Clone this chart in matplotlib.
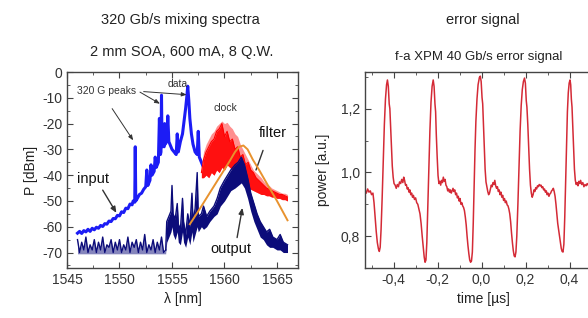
import numpy as np
import matplotlib
matplotlib.use("Agg")
import matplotlib.pyplot as plt
from matplotlib.ticker import FixedLocator, FixedFormatter, MultipleLocator

plt.rcParams['font.family'] = ['Liberation Sans', 'DejaVu Sans']

# ---------------- data: left panel (spectra) ----------------
in_lam = [1546.0, 1546.2, 1546.4, 1546.6, 1546.8, 1547.0, 1547.2, 1547.4, 1547.6, 1547.8,
          1548.0, 1548.2, 1548.4, 1548.6, 1548.8, 1549.0, 1549.2, 1549.4, 1549.6, 1549.8,
          1550.0, 1550.2, 1550.4, 1550.6, 1550.8, 1551.0, 1551.2,
          1551.3, 1551.45, 1551.5, 1551.55, 1551.7, 1551.9,
          1552.1, 1552.3, 1552.5, 1552.6, 1552.7, 1552.9, 1553.0, 1553.1, 1553.3, 1553.4, 1553.5,
          1553.7, 1553.8, 1553.9, 1553.95, 1554.0, 1554.05, 1554.15, 1554.25, 1554.3, 1554.35,
          1554.5, 1554.6, 1554.7, 1554.8, 1555.0, 1555.2, 1555.4, 1555.5, 1555.6, 1555.7,
          1555.8, 1556.0, 1556.15, 1556.3, 1556.4, 1556.5, 1556.6, 1556.7, 1556.85, 1557.0,
          1557.2, 1557.4, 1557.5, 1557.6, 1557.8, 1558.0]
in_db = [-62.5, -61.8, -62.6, -61.5, -62.0, -61.0, -61.8, -60.6, -61.2, -60.2,
         -60.6, -59.5, -59.9, -58.8, -59.0, -57.8, -58.0, -56.8, -56.9, -55.6,
         -55.8, -54.2, -54.5, -52.8, -53.0, -51.2, -51.5,
         -50, -50.5, -29, -50, -49, -47.5,
         -47, -45.5, -44.5, -38, -44, -42, -36, -40, -38.5, -33, -37,
         -35, -18, -32, -31, -9, -29, -28, -29, -20, -28,
         -27, -17, -27, -28, -30, -31, -32, -24, -31, -29,
         -27, -24, -19, -14, -10, -5.5, -11, -18, -24, -28,
         -31, -32, -23, -33, -35, -37]

base_lam = [1546.0, 1546.2, 1546.4, 1546.6, 1546.8, 1547.0, 1547.2, 1547.4, 1547.6, 1547.8,
            1548.0, 1548.2, 1548.4, 1548.6, 1548.8, 1549.0, 1549.2, 1549.4, 1549.6, 1549.8,
            1550.0, 1550.2, 1550.4, 1550.6, 1550.8, 1551.0, 1551.2, 1551.4, 1551.6, 1551.8,
            1552.0, 1552.2, 1552.4, 1552.6, 1552.8, 1553.0, 1553.2, 1553.4, 1553.6, 1553.8,
            1554.0, 1554.2, 1554.4]
base_db = [-65, -70, -66, -69, -64, -70, -67, -69, -65, -70,
           -66, -69, -64, -70, -67, -68, -65, -70, -66, -69,
           -65, -70, -67, -69, -64, -70, -66, -68, -65, -70,
           -66, -69, -63, -70, -67, -69, -65, -70, -66, -69,
           -64, -70, -69]

out_lam = [1554.4, 1554.5, 1554.7, 1554.9, 1555.0, 1555.1, 1555.3, 1555.5, 1555.6, 1555.8,
           1556.0, 1556.1, 1556.3, 1556.5, 1556.7, 1556.9, 1557.0, 1557.2, 1557.4, 1557.5,
           1557.8, 1558.0, 1558.3, 1558.6, 1559.0, 1559.3, 1559.6, 1560.0, 1560.3, 1560.6,
           1561.0, 1561.3, 1561.6, 1561.9, 1562.2, 1562.5, 1562.8, 1563.1, 1563.4, 1563.7,
           1564.0, 1564.3, 1564.6, 1565.0, 1565.3, 1565.6, 1566.0]
out_hi = [-69, -58, -56, -54, -44, -55, -57, -51, -59, -61,
          -49, -58, -63, -55, -60, -47, -58, -53, -39, -56,
          -55, -52, -56, -54, -52, -49, -45, -42, -40, -38,
          -36, -35, -33, -36, -41, -47, -51, -55, -58, -60,
          -62, -61, -64, -65, -63, -66, -67]
out_lo = [-70, -66, -64, -62, -60, -63, -65, -62, -66, -67,
          -62, -66, -68, -64, -67, -62, -66, -63, -60, -62,
          -60, -61, -60, -58, -56, -55, -52, -50, -48, -46,
          -45, -44, -43, -45, -49, -54, -58, -61, -64, -65,
          -67, -68, -68, -69, -69, -70, -70]

clock_lam = [1557.8, 1558.0, 1558.25, 1558.5, 1558.75, 1559.0, 1559.25, 1559.5, 1559.75, 1560.0,
             1560.25, 1560.5, 1560.75, 1561.0, 1561.25, 1561.5, 1561.75, 1562.0, 1562.25, 1562.5,
             1562.75, 1563.0, 1563.25, 1563.5, 1563.75, 1564.0, 1564.25, 1564.5, 1564.75, 1565.0,
             1565.25, 1565.5, 1565.75, 1566.0]
clock_hi = [-37, -31, -28, -26, -24, -23, -21, -20, -19, -20,
            -19.5, -21, -22, -24, -25, -28, -30, -32, -34, -36,
            -38, -39, -40, -41, -42.5, -43.5, -44, -45, -45.5, -46,
            -46.5, -47, -47, -47.5]
clock_mid = [-39, -34, -31, -29, -27, -26, -23, -22, -20, -25,
             -23, -27, -26, -30, -29, -33, -32, -36, -35, -38,
             -39, -41, -42, -43, -44, -45, -45.5, -46, -46.5, -47,
             -47.5, -47.5, -48, -48.5]
clock_lo = [-41, -41, -40, -41, -39, -40, -38, -39, -37, -38,
            -36, -37, -38, -40, -41, -42, -43, -44, -45, -45.5,
            -46, -46.5, -47, -47.5, -47.5, -48, -48, -48.5, -48.5, -49,
            -49, -49.5, -49.5, -50]

filt_lam = [1556.7, 1557.5, 1558.5, 1559.5, 1560.5, 1561.0, 1561.4, 1561.8, 1562.2, 1562.7,
            1563.3, 1564.0, 1565.0, 1566.0]
filt_db = [-59, -54, -47.5, -41, -34.5, -31, -29, -28.5, -30, -34,
           -38, -43, -50, -57.5]

spec_xticks = [1545, 1550, 1555, 1560, 1565]
spec_yticks = [0, -10, -20, -30, -40, -50, -60, -70]
spec_yticklabels = ["0", "-10", "-20", "-30", "-40", "-50", "-60", "-70"]

# ---------------- data: right panel (error signal) ----------------
err_t = [-0.530, -0.524, -0.518, -0.512, -0.506, -0.500, -0.494, -0.489, -0.484, -0.479,
         -0.474, -0.469, -0.465, -0.461, -0.457, -0.452, -0.447, -0.442, -0.437, -0.432,
         -0.428, -0.424, -0.420, -0.417, -0.414, -0.410, -0.406, -0.402, -0.398, -0.393,
         -0.388, -0.383, -0.378, -0.373, -0.368, -0.363, -0.358, -0.354, -0.350, -0.346,
         -0.342, -0.338, -0.334, -0.330, -0.326, -0.322, -0.318, -0.314, -0.310, -0.305,
         -0.300, -0.295, -0.290, -0.285, -0.280, -0.275, -0.270, -0.265, -0.261, -0.257,
         -0.253, -0.249, -0.245, -0.240, -0.235, -0.230, -0.225, -0.220,
         -0.216, -0.212, -0.209, -0.206, -0.202, -0.198, -0.194, -0.190, -0.186, -0.182,
         -0.178, -0.174, -0.170, -0.166, -0.162, -0.158, -0.154, -0.150, -0.146, -0.142,
         -0.138, -0.134, -0.130, -0.126, -0.122, -0.118, -0.114, -0.110, -0.106, -0.102,
         -0.098, -0.094, -0.090, -0.086, -0.082, -0.078, -0.074, -0.070, -0.066, -0.062,
         -0.058, -0.054, -0.050, -0.046, -0.042, -0.038, -0.034, -0.030, -0.026, -0.021,
         -0.016, -0.010, -0.006,
         -0.002, 0.002, 0.005, 0.008, 0.012, 0.016, 0.020, 0.024, 0.028, 0.032,
         0.036, 0.040, 0.044, 0.048, 0.052, 0.056, 0.060, 0.064, 0.068, 0.072,
         0.076, 0.080, 0.084, 0.088, 0.092, 0.096, 0.100, 0.104, 0.108, 0.112,
         0.116, 0.120, 0.124, 0.128, 0.132, 0.136, 0.140, 0.144, 0.148, 0.152,
         0.156, 0.160, 0.165, 0.170, 0.175, 0.180, 0.185, 0.190, 0.195,
         0.199, 0.203, 0.206, 0.210, 0.214, 0.218, 0.222, 0.226, 0.230, 0.234,
         0.238, 0.242, 0.246, 0.250, 0.254, 0.258, 0.262, 0.266, 0.270, 0.274,
         0.278, 0.282, 0.286, 0.290, 0.294, 0.298, 0.302, 0.306, 0.310, 0.314,
         0.318, 0.322, 0.326, 0.330, 0.334, 0.338, 0.342, 0.346, 0.350, 0.354,
         0.358, 0.362, 0.366, 0.370, 0.374, 0.378, 0.382, 0.386, 0.390, 0.394,
         0.398, 0.402,
         0.405, 0.408, 0.411, 0.414, 0.418, 0.422, 0.426, 0.430, 0.434, 0.438,
         0.442, 0.446, 0.450, 0.455, 0.460, 0.465, 0.470, 0.475, 0.480, 0.490,
         0.500, 0.520, 0.540]
err_v = [0.945, 0.935, 0.948, 0.938, 0.942, 0.930, 0.935, 0.905, 0.860, 0.815,
         0.780, 0.760, 0.752, 0.765, 0.820, 0.920, 1.040, 1.150, 1.230, 1.275,
         1.290, 1.270, 1.215, 1.200, 1.150, 1.090, 1.020, 0.985, 0.965, 0.960,
         0.950, 0.962, 0.955, 0.970, 0.965, 0.978, 0.968, 0.985, 0.975, 0.960,
         0.962, 0.948, 0.952, 0.938, 0.945, 0.930, 0.935, 0.922, 0.928, 0.915,
         0.920, 0.905, 0.900, 0.885, 0.870, 0.840, 0.800, 0.765, 0.735, 0.718,
         0.725, 0.780, 0.880, 1.010, 1.130, 1.220, 1.270, 1.290,
         1.270, 1.215, 1.190, 1.120, 1.050, 0.990, 0.965, 0.972, 0.960, 0.975,
         0.968, 0.985, 0.972, 0.978, 0.960, 0.955, 0.942, 0.948, 0.938, 0.945,
         0.935, 0.942, 0.950, 0.940, 0.945, 0.930, 0.935, 0.920, 0.925, 0.910,
         0.918, 0.900, 0.905, 0.895, 0.890, 0.880, 0.860, 0.835, 0.800, 0.770,
         0.745, 0.725, 0.718, 0.722, 0.750, 0.840, 0.960, 1.070, 1.160, 1.230,
         1.275, 1.298, 1.302,
         1.285, 1.235, 1.215, 1.160, 1.080, 1.010, 0.970, 0.955, 0.940, 0.930,
         0.935, 0.948, 0.960, 0.955, 0.968, 0.962, 0.975, 0.958, 0.950, 0.955,
         0.940, 0.945, 0.930, 0.938, 0.922, 0.928, 0.912, 0.918, 0.905, 0.910,
         0.898, 0.895, 0.885, 0.870, 0.845, 0.810, 0.780, 0.755, 0.738, 0.735,
         0.750, 0.800, 0.900, 1.020, 1.130, 1.210, 1.260, 1.285, 1.296,
         1.280, 1.225, 1.205, 1.150, 1.080, 1.010, 0.960, 0.935, 0.922, 0.930,
         0.945, 0.940, 0.952, 0.948, 0.958, 0.955, 0.962, 0.958, 0.960, 0.952,
         0.955, 0.945, 0.948, 0.938, 0.942, 0.930, 0.935, 0.925, 0.932, 0.935,
         0.942, 0.945, 0.950, 0.940, 0.925, 0.900, 0.870, 0.840, 0.820, 0.800,
         0.780, 0.762, 0.752, 0.750, 0.775, 0.860, 0.970, 1.090, 1.190, 1.250,
         1.280, 1.290,
         1.275, 1.230, 1.205, 1.150, 1.080, 1.010, 0.975, 0.962, 0.968, 0.958,
         0.972, 0.965, 0.975, 0.962, 0.968, 0.955, 0.962, 0.958, 0.965, 0.955,
         0.960, 0.958, 0.962]

err_xticks = [-0.4, -0.2, 0.0, 0.2, 0.4]
err_xticklabels = ["-0,4", "-0,2", "0,0", "0,2", "0,4"]
err_yticks = [0.8, 1.0, 1.2]
err_yticklabels = ["0,8", "1,0", "1,2"]

# ---------------- figure ----------------
W, H = 588, 318
fig = plt.figure(figsize=(W / 100, H / 100), dpi=100)
fig.patch.set_facecolor('white')

ax1 = fig.add_axes([67 / W, 1 - 268 / H, (298 - 67) / W, (268 - 72) / H])
ax2 = fig.add_axes([365 / W, 1 - 268 / H, 237.6 / W, (268 - 72) / H])

navy = '#0c0c7a'
blue = '#1c1cf5'

# input
ax1.plot(in_lam, in_db, color=blue, lw=2.2, zorder=3)
# output baseline + band
ax1.fill_between(base_lam, base_db, -70.5, color=navy, alpha=0.5, lw=0, zorder=2)
ax1.plot(base_lam, base_db, color=navy, lw=1.0, zorder=2)
ax1.fill_between(out_lam, out_lo, out_hi, color=navy, lw=0, zorder=5)
ax1.plot(out_lam, out_hi, color=navy, lw=1.0, zorder=5)
# clock
ax1.fill_between(clock_lam, clock_lo, clock_hi, color='#ff8f8f', lw=0, zorder=4)
ax1.fill_between(clock_lam, clock_lo, clock_mid, color='#ff1010', lw=0, zorder=4)
ax1.plot(clock_lam, clock_mid, color='#ff0000', lw=0.8, zorder=4)
# filter
ax1.plot(filt_lam, filt_db, color='#e8922e', lw=1.4, zorder=6)

ax1.set_xlim(1545, 1567)
ax1.set_ylim(-76, 0)
ax1.xaxis.set_major_locator(FixedLocator(spec_xticks))
ax1.xaxis.set_minor_locator(MultipleLocator(2.5))
ax1.yaxis.set_major_locator(FixedLocator(spec_yticks))
ax1.yaxis.set_major_formatter(FixedFormatter(spec_yticklabels))
ax1.yaxis.set_minor_locator(MultipleLocator(5))
ax1.set_xlabel('λ [nm]', fontsize=10, color='#222222', labelpad=4)
ax1.set_ylabel('P [dBm]', fontsize=10, color='#222222', labelpad=3)

akw = dict(color='#333333', lw=0.7, shrinkA=0, shrinkB=0)
ax1.text(1548.8, -7.3, '320 G peaks', fontsize=7.5, ha='center', va='center', color='#333333')
ax1.annotate('', xy=(1551.3, -26.5), xytext=(1549.3, -14.2),
             arrowprops=dict(arrowstyle='-|>,head_length=0.3,head_width=0.12', **akw))
ax1.annotate('', xy=(1553.85, -12.3), xytext=(1551.95, -7.8),
             arrowprops=dict(arrowstyle='-|>,head_length=0.3,head_width=0.12', **akw))
ax1.annotate('', xy=(1556.4, -8.8), xytext=(1552.3, -7.6),
             arrowprops=dict(arrowstyle='-|>,head_length=0.3,head_width=0.12', **akw))
ax1.text(1555.5, -4.6, 'data', fontsize=7.5, ha='center', va='center', color='#333333')
ax1.text(1560.05, -13.8, 'clock', fontsize=7.5, ha='center', va='center', color='#333333')
ax1.text(1564.6, -23.8, 'filter', fontsize=10.5, ha='center', va='center', color='#111111')
ax1.annotate('', xy=(1563.0, -38), xytext=(1563.67, -30.4),
             arrowprops=dict(arrowstyle='-', **dict(akw, lw=1.0)))
ax1.text(1547.5, -41.5, 'input', fontsize=10.5, ha='center', va='center', color='#111111')
ax1.annotate('', xy=(1549.7, -54.6), xytext=(1548.4, -45.8),
             arrowprops=dict(arrowstyle='-|>,head_length=0.35,head_width=0.15', **dict(akw, lw=1.0)))
ax1.text(1560.6, -68.5, 'output', fontsize=10.5, ha='center', va='center', color='#111111')
ax1.annotate('', xy=(1561.7, -52.7), xytext=(1561.2, -64.2),
             arrowprops=dict(arrowstyle='-|>,head_length=0.35,head_width=0.15', **dict(akw, lw=1.0)))

# error signal
ax2.plot(err_t, err_v, color='#d42a36', lw=1.1)
ax2.set_xlim(-0.53, 0.55)
ax2.set_ylim(0.70, 1.315)
ax2.xaxis.set_major_locator(FixedLocator(err_xticks))
ax2.xaxis.set_major_formatter(FixedFormatter(err_xticklabels))
ax2.xaxis.set_minor_locator(MultipleLocator(0.1))
ax2.yaxis.set_major_locator(FixedLocator(err_yticks))
ax2.yaxis.set_major_formatter(FixedFormatter(err_yticklabels))
ax2.yaxis.set_minor_locator(MultipleLocator(0.1))
ax2.set_xlabel('time [µs]', fontsize=10, color='#222222', labelpad=4)
ax2.set_ylabel('power [a.u.]', fontsize=10, color='#222222', labelpad=8)

for ax in (ax1, ax2):
    ax.tick_params(which='both', direction='in', top=True, right=True,
                   labelsize=10, labelcolor='#333333', color='#444444')
    ax.tick_params(which='major', length=4, width=0.8)
    ax.tick_params(which='minor', length=2, width=0.6)
    for s in ax.spines.values():
        s.set_color('#444444')
        s.set_linewidth(1.0)

fig.text(180 / W, 1 - 20 / H, '320 Gb/s mixing spectra', fontsize=10.5, ha='center', va='center', color='#222222')
fig.text(182 / W, 1 - 52 / H, '2 mm SOA, 600 mA, 8 Q.W.', fontsize=10.5, ha='center', va='center', color='#222222')
fig.text(483 / W, 1 - 20 / H, 'error signal', fontsize=10.5, ha='center', va='center', color='#222222')
fig.text(479 / W, 1 - 57 / H, 'f-a XPM 40 Gb/s error signal', fontsize=9.5, ha='center', va='center', color='#222222')

fig.savefig('out.png', dpi=100)
